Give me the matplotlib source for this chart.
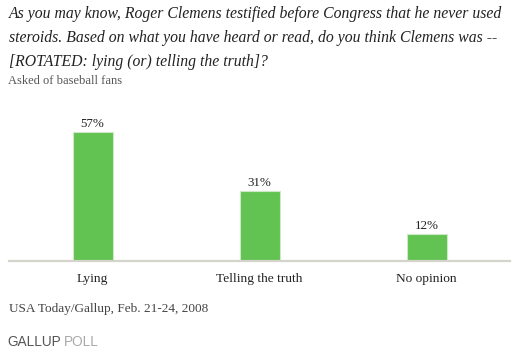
import matplotlib
matplotlib.use("Agg")
import matplotlib.pyplot as plt

categories = ["Lying", "Telling the truth", "No opinion"]
values = [57, 31, 12]
value_labels = ["57%", "31%", "12%"]

W, H = 516, 354
fig = plt.figure(figsize=(W/100, H/100), dpi=100)
fig.patch.set_facecolor("white")

serif = ["Liberation Serif", "DejaVu Serif"]

# axes: baseline at y=261px, x from 9 to 510
ymax = 70
px_per = 2.26
top_px = 261 - ymax * px_per
ax = fig.add_axes([9/W, 1 - 261/H, (510-9)/W, (261 - top_px)/H])
x = range(len(categories))
ax.bar(x, values, width=40/167, color="#62C252", edgecolor="#cfe8c8", linewidth=0.8)
ax.set_xlim(-0.5, 2.5)
ax.set_ylim(0, ymax)
for s in ["top", "right", "left"]:
    ax.spines[s].set_visible(False)
ax.spines["bottom"].set_color("#d4d4cc")
ax.spines["bottom"].set_linewidth(1.6)
ax.set_yticks([])
ax.set_xticks(list(x))
ax.set_xticklabels(categories, family=serif, fontsize=9.6, color="#222222")
ax.tick_params(axis="x", length=0, pad=8.5)
for xi, v, lab in zip(x, values, value_labels):
    ax.text(xi, v + 1.0, lab, ha="center", va="bottom", family=serif, fontsize=9.4, color="#222222")

title = ("As you may know, Roger Clemens testified before Congress that he never used\n"
         "steroids. Based on what you have heard or read, do you think Clemens was --\n"
         "[ROTATED: lying (or) telling the truth]?")
fig.text(9/W, 1 - 6.5/H, title, ha="left", va="top", family=serif, style="italic",
         fontsize=11.3, color="#222222", linespacing=1.66)
fig.text(8/W, 1 - 81/H, "Asked of baseball fans", ha="left", va="center", family=serif,
         fontsize=9.0, color="#555555")
fig.text(9/W, 1 - 309/H, "USA Today/Gallup, Feb. 21-24, 2008", ha="left", va="center",
         family=serif, fontsize=9.5, color="#444444")
fig.text(7/W, 1 - 342/H, "GALLUP", ha="left", va="center", family=["Liberation Sans", "DejaVu Sans"],
         fontsize=9.8, color="#555555")
fig.text(64/W, 1 - 342/H, "POLL", ha="left", va="center", family=["Liberation Sans", "DejaVu Sans"],
         fontsize=9.8, color="#aaaaaa")

fig.savefig("out.png", dpi=100, facecolor="white")
